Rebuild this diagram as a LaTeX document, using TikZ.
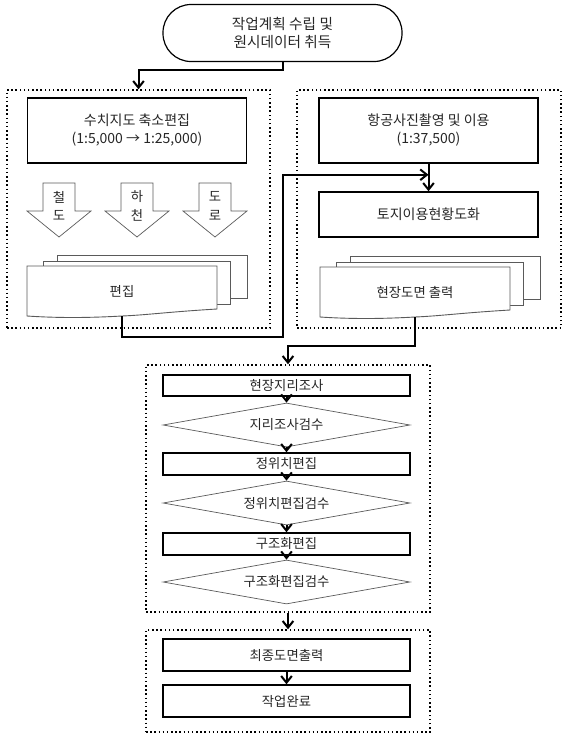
\documentclass[tikz,border=0pt]{standalone}
\usepackage{fontspec}
\setmainfont{Noto Sans CJK KR}
\usepackage{tikz}
\usetikzlibrary{arrows.meta, positioning, shapes.geometric, backgrounds, fit}
\newlength\px
\setlength\px{0.75pt}
\definecolor{linegray}{RGB}{90,90,90}

\tikzset{
  every node/.style={font=\fontsize{10}{13}\selectfont, text=black!85},
  termbox/.style={draw, line width=1.2\px, rounded corners=28\px, minimum width=239\px, minimum height=57\px, align=center},
  procbox/.style={draw, line width=1.5\px, minimum width=219\px, align=center, font=\fontsize{10.5}{13.5}\selectfont},
  stepbox/.style={draw, line width=1.5\px, minimum width=247\px, inner sep=0pt},
  checkbox/.style={diamond, aspect=5.6, draw=linegray, line width=0.7\px, minimum width=247\px, minimum height=44\px, inner sep=0pt},
  groupbox/.style={draw, dotted, line width=1.5\px, inner sep=0pt},
  flow/.style={line width=1.5pt, -{Straight Barb[length=5pt, width=8pt]}},
  blockarrow/.style={draw=linegray, line width=0.7\px, fill=white},
  backdoc/.style={draw=linegray, line width=0.7\px, fill=white},
  frontdoc/.style={draw=linegray, line width=0.9\px, fill=white},
  docstack/.pic={
    \draw[backdoc] (30,-11) rectangle (220,32);
    \draw[backdoc] (16,-5) rectangle (203,38);
    \draw[frontdoc] (0,0) -- (190,0) -- (190,43)
      .. controls (140,46) and (120,49) .. (95,50)
      .. controls (60,52) and (30,52) .. (0,50) -- cycle;
    \coordinate (-bot) at (95,50);
  }
}

\begin{document}
\begin{tikzpicture}[x=0.75pt, y=-0.75pt]
  \useasboundingbox (0,0) rectangle (565,736);

  % start
  \node[termbox, font=\fontsize{11}{14}\selectfont] (start) at (282.5,33) {작업계획 수립 및\\원시데이터 취득};

  % upper groups
  \node[groupbox, minimum width=263\px, minimum height=238\px] (leftgrp) at (138.5,209) {};
  \node[groupbox, minimum width=264\px, minimum height=238\px] (rightgrp) at (429,209) {};

  \node[procbox, minimum height=65\px] (reduce) at (137,130.5) {수치지도 축소편집\\(1:5,000 → 1:25,000)};
  \node[procbox, minimum height=65\px] (photo) at (428.5,130.5) {항공사진촬영 및 이용\\(1:37,500)};
  \node[procbox, minimum height=45\px] (landuse) at (428.5,214.5) {토지이용현황도화};

  % layers
  \foreach \x/\a/\b [count=\i] in {59/철/도, 137/하/천, 215/도/로} {
    \draw[blockarrow] (\x-16,183) -- (\x+16,183) -- (\x+16,211) -- (\x+32,211)
      -- (\x,237) -- (\x-32,211) -- (\x-16,211) -- cycle;
    \node[align=center, font=\fontsize{10}{14}\selectfont] (layer\i) at (\x,206) {\a\\\b};
  }

  % documents
  \pic (editdoc) at (27,266) {docstack};
  \node (edit) at (122,291) {편집};
  \pic (fielddoc) at (320,267) {docstack};
  \node (field) at (415,292) {현장도면 출력};

  % survey group
  \node[groupbox, minimum width=284\px, minimum height=247\px] (surveygrp) at (288,488.5) {};
  \node[stepbox, minimum height=21\px] (survey) at (286.5,385.5) {현장지리조사};
  \node[checkbox] (surveychk) at (286.5,425) {지리조사검수};
  \node[stepbox, minimum height=22\px] (posedit) at (286.5,464) {정위치편집};
  \node[checkbox] (poschk) at (286.5,503) {정위치편집검수};
  \node[stepbox, minimum height=22\px] (structedit) at (286.5,544) {구조화편집};
  \node[checkbox] (structchk) at (286.5,582) {구조화편집검수};

  % final group
  \node[groupbox, minimum width=284\px, minimum height=102\px] (finalgrp) at (288,681) {};
  \node[stepbox, minimum height=32\px] (output) at (286.5,655) {최종도면출력};
  \node[stepbox, minimum height=32\px] (done) at (286.5,701) {작업완료};

  % connectors
  \coordinate (join) at ([yshift=-8.25pt]photo.south);
  \draw[flow] (start.south) -- ++(0,8) -| (leftgrp.north);
  \draw[flow] (photo.south) -- (landuse.north);
  \draw[flow] (editdoc-bot) -- ++(0,21) -| ([xshift=-109.5pt]join) -- (join);
  \draw[flow] (fielddoc-bot) -- ++(0,29) -| (surveygrp.north);
  \draw[flow] (survey.south) -- (surveychk.north);
  \draw[flow] (surveychk.south) -- (posedit.north);
  \draw[flow] (posedit.south) -- (poschk.north);
  \draw[flow] (poschk.south) -- (structedit.north);
  \draw[flow] (structedit.south) -- (structchk.north);
  \draw[flow] (surveygrp.south) -- (finalgrp.north);
  \draw[flow] (output.south) -- (done.north);
\end{tikzpicture}
\end{document}
